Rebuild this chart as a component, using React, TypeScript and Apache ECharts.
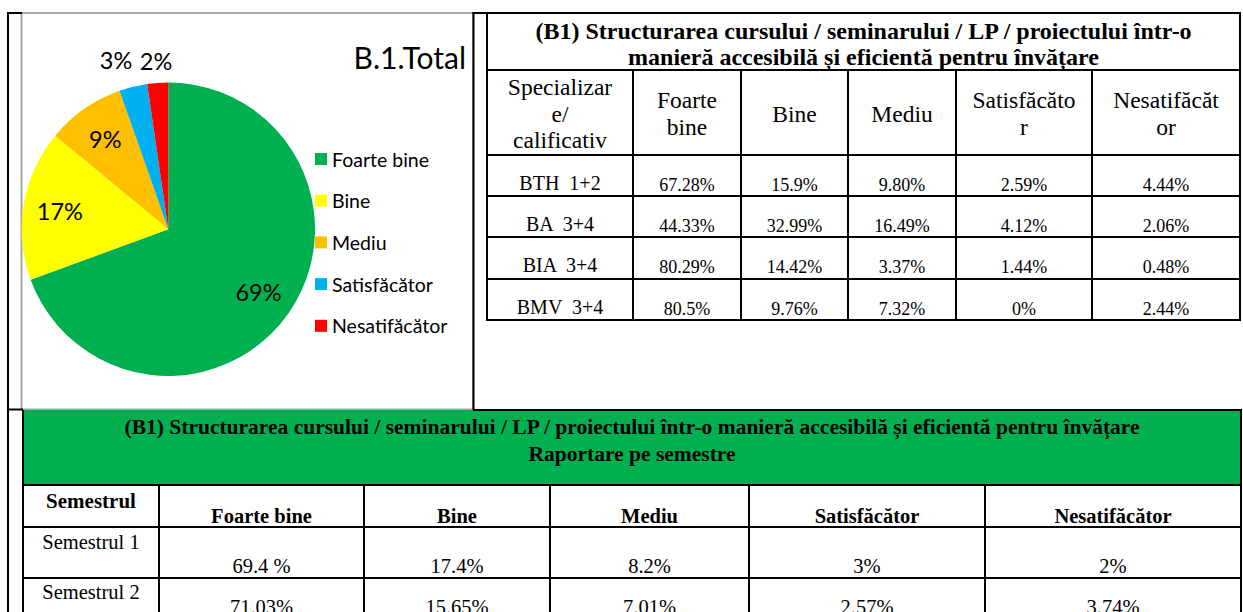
import React, { useEffect, useRef } from 'react';
import * as echarts from 'echarts';

// ---------------- data ----------------
const pieTitle = 'B.1.Total';
const pieCategories = ['Foarte bine', 'Bine', 'Mediu', 'Satisfăcător', 'Nesatifăcător'];
const pieValues = [69.4, 16.6, 8.6, 3.1, 2.3];

const specTitle = [
  '(B1) Structurarea cursului / seminarului / LP / proiectului într-o',
  'manieră accesibilă și eficientă pentru învățare',
];
const specHeader = [
  ['Specializar', 'e/', 'calificativ'],
  ['Foarte', 'bine'],
  ['Bine'],
  ['Mediu'],
  ['Satisfăcăto', 'r'],
  ['Nesatifăcăt', 'or'],
];
const specNames = ['BTH  1+2', 'BA  3+4', 'BIA  3+4', 'BMV  3+4'];
const specFoarteBine = ['67.28%', '44.33%', '80.29%', '80.5%'];
const specBine = ['15.9%', '32.99%', '14.42%', '9.76%'];
const specMediu = ['9.80%', '16.49%', '3.37%', '7.32%'];
const specSatisfacator = ['2.59%', '4.12%', '1.44%', '0%'];
const specNesatisfacator = ['4.44%', '2.06%', '0.48%', '2.44%'];

const semTitle = [
  '(B1) Structurarea cursului / seminarului / LP / proiectului într-o manieră accesibilă și eficientă pentru învățare',
  'Raportare pe semestre',
];
const semHeader = ['Semestrul', 'Foarte bine', 'Bine', 'Mediu', 'Satisfăcător', 'Nesatifăcător'];
const semNames = ['Semestrul 1', 'Semestrul 2'];
const semFoarteBine = ['69.4 %', '71.03%'];
const semBine = ['17.4%', '15.65%'];
const semMediu = ['8.2%', '7.01%'];
const semSatisfacator = ['3%', '2.57%'];
const semNesatisfacator = ['2%', '3.74%'];

// ---------------- style / layout ----------------
const pieColors = ['#00B050', '#FFFF00', '#FFC000', '#00B0F0', '#FF0000'];
const outsideLabel = [false, false, false, true, true];
const outerLineLen = [0, 0, 0, 27.6, 22.3];
const outerLineLen2 = [0, 0, 0, 10.5, 0];

const SERIF = '"Liberation Serif", "Times New Roman", serif';
const SANS = 'Lato, "Open Sans", sans-serif';

const PIE_CX = 168.3;
const PIE_CY = 229.2;
const PIE_R = 146.7;

const RT_X = [487, 633, 741, 848, 956, 1092, 1240];
const RT_Y = [13, 70, 155, 196, 237, 279, 320];
const BT_X = [23, 159, 364, 550, 749, 985, 1241];
const BT_Y = [410, 485, 527, 578, 640];
const BT_NAME_DY = [15, 14];
const BT_VALUE_DY = [39, 29];

function txt(x: number, y: number, text: string, size: number, bold = false, family = SERIF) {
  return {
    type: 'text',
    x,
    y,
    silent: true,
    style: {
      text,
      fontSize: size,
      fontFamily: family,
      fontWeight: bold ? 'bold' : 'normal',
      fill: '#000',
      align: 'center',
      verticalAlign: 'middle',
    },
  };
}
function ln(x1: number, y1: number, x2: number, y2: number, color = '#000', w = 2) {
  return {
    type: 'line',
    silent: true,
    shape: { x1, y1, x2, y2 },
    style: { stroke: color, lineWidth: w },
  };
}

function buildGraphics() {
  const g: any[] = [];
  // chart frame (gray) and outer table lines
  g.push({
    type: 'rect',
    silent: true,
    shape: { x: 21.5, y: 13, width: 451.5, height: 396.5 },
    style: { fill: 'none', stroke: '#A6A6A6', lineWidth: 2 },
  });
  g.push(ln(8, 12, 8, 612));
  g.push(ln(7, 13, 22, 13));
  g.push(ln(473.5, 12, 473.5, 410));
  g.push(ln(472.5, 13, RT_X[6] + 1, 13));
  g.push(ln(7, 409.5, 23, 409.5));

  // ---- right table ----
  RT_Y.forEach((y, i) => {
    if (i === 0) return;
    g.push(ln(RT_X[0] - 1, y, RT_X[6] + 1, y));
  });
  RT_X.forEach((x, i) => {
    const top = i === 0 || i === RT_X.length - 1 ? RT_Y[0] : RT_Y[1];
    g.push(ln(x, top, x, RT_Y[RT_Y.length - 1] + 1));
  });
  const rtCx = (RT_X[0] + RT_X[6]) / 2;
  g.push(txt(rtCx, 31, specTitle[0], 24, true));
  g.push(txt(rtCx, 57, specTitle[1], 24, true));
  specHeader.forEach((lines, c) => {
    const cx = (RT_X[c] + RT_X[c + 1]) / 2;
    lines.forEach((t, k) => {
      const y = 113.5 + (k - (lines.length - 1) / 2) * 26.5;
      g.push(txt(cx, y, t, 23.5));
    });
  });
  const specCols = [specFoarteBine, specBine, specMediu, specSatisfacator, specNesatisfacator];
  specNames.forEach((name, r) => {
    const top = RT_Y[r + 2];
    g.push(txt((RT_X[0] + RT_X[1]) / 2, top + 28, name, 20));
    specCols.forEach((col, c) => {
      g.push(txt((RT_X[c + 1] + RT_X[c + 2]) / 2, top + 30, col[r], 18));
    });
  });

  // ---- bottom table ----
  g.push({
    type: 'rect',
    silent: true,
    shape: { x: BT_X[0], y: BT_Y[0], width: BT_X[6] - BT_X[0], height: BT_Y[1] - BT_Y[0] },
    style: { fill: '#00B050' },
  });
  g.push(ln(473, BT_Y[0], BT_X[6] + 1, BT_Y[0]));
  [BT_Y[1], BT_Y[2], BT_Y[3]].forEach((y) => g.push(ln(BT_X[0] - 1, y, BT_X[6] + 1, y)));
  BT_X.forEach((x, i) => {
    const top = i === 0 || i === BT_X.length - 1 ? BT_Y[0] : BT_Y[1];
    g.push(ln(x, top, x, 612));
  });
  const btCx = (BT_X[0] + BT_X[6]) / 2;
  g.push(txt(btCx, 427, semTitle[0], 21.5, true));
  g.push(txt(btCx, 454, semTitle[1], 21.5, true));
  semHeader.forEach((h, c) => {
    const cx = (BT_X[c] + BT_X[c + 1]) / 2;
    g.push(txt(cx, c === 0 ? 501 : 516, h, c === 0 ? 21 : 20.5, true));
  });
  const semCols = [semFoarteBine, semBine, semMediu, semSatisfacator, semNesatisfacator];
  semNames.forEach((name, r) => {
    const top = BT_Y[r + 2];
    g.push(txt((BT_X[0] + BT_X[1]) / 2, top + BT_NAME_DY[r], name, 20.5));
    semCols.forEach((col, c) => {
      g.push(txt((BT_X[c + 1] + BT_X[c + 2]) / 2, top + BT_VALUE_DY[r], col[r], 20.5));
    });
  });
  return g;
}

function buildOption(): any {
  const labelFmt = (p: any) => Math.round(p.percent) + '%';
  const labelFont = { fontFamily: SANS, fontSize: 23.5, color: '#000' };
  return {
    animation: false,
    title: {
      text: pieTitle,
      right: 1243 - 466,
      top: 39,
      padding: 0,
      textStyle: { fontFamily: SANS, fontSize: 30, fontWeight: 'normal', color: '#000', lineHeight: 36 },
    },
    legend: {
      orient: 'vertical',
      left: 315,
      top: 149,
      padding: 0,
      itemWidth: 12,
      itemHeight: 12,
      itemGap: 21.7,
      icon: 'rect',
      selectedMode: false,
      data: pieCategories,
      textStyle: { fontFamily: SANS, fontSize: 19.5, color: '#000', lineHeight: 20 },
    },
    graphic: buildGraphics(),
    series: [
      {
        type: 'pie',
        center: [PIE_CX, PIE_CY],
        radius: PIE_R,
        startAngle: 90,
        clockwise: true,
        avoidLabelOverlap: false,
        silent: true,
        emphasis: { disabled: true },
        labelLayout: { align: 'center' },
        label: { position: 'outside', formatter: labelFmt, distanceToLabelLine: 0, ...labelFont },
        labelLine: { show: false },
        data: pieValues.map((v, i) => ({
          value: v,
          name: pieCategories[i],
          itemStyle: { color: pieColors[i] },
          label: { show: outsideLabel[i] },
          labelLine: { show: false, length: outerLineLen[i], length2: outerLineLen2[i] },
        })),
      },
      {
        type: 'pie',
        center: [PIE_CX, PIE_CY],
        radius: 214,
        startAngle: 90,
        clockwise: true,
        avoidLabelOverlap: false,
        silent: true,
        emphasis: { disabled: true },
        label: { position: 'inside', formatter: labelFmt, ...labelFont },
        labelLine: { show: false },
        itemStyle: { color: 'rgba(0,0,0,0)' },
        data: pieValues.map((v, i) => ({
          value: v,
          name: pieCategories[i],
          itemStyle: { color: 'rgba(0,0,0,0)' },
          label: { show: !outsideLabel[i] },
        })),
      },
    ],
  };
}

export default function App() {
  const ref = useRef<HTMLDivElement>(null);
  useEffect(() => {
    if (!ref.current) return;
    const chart = echarts.init(ref.current, null, { renderer: 'svg' });
    chart.setOption(buildOption());
    return () => chart.dispose();
  }, []);
  return (
    <div
      ref={ref}
      style={{ position: 'absolute', left: 0, top: 0, width: 1243, height: 612, background: '#fff' }}
    />
  );
}
